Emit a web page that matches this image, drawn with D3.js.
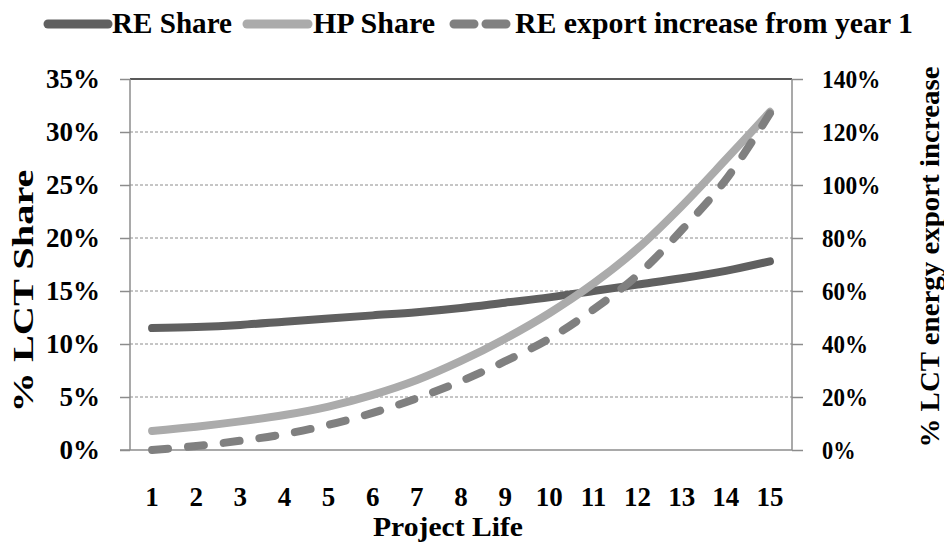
<!DOCTYPE html>
<html lang="en">
<head>
    <meta charset="UTF-8">
    <title>LCT Share over Project Life</title>
    <script src="https://d3js.org/d3.v7.min.js"></script>
    <style>
        body { margin: 0; background: #fff; }
        svg text {
            font-family: "Liberation Serif", "Times New Roman", serif;
            font-weight: bold;
            fill: #000;
        }
        .grid {
            stroke: #8c8c8c;
            stroke-width: 1;
            stroke-dasharray: 3,2;
        }
        .axis-line {
            stroke: #8c8c8c;
            stroke-width: 1.5;
        }
    </style>
</head>
<body>
    <svg id="chart" width="944" height="544"></svg>

    <script>
        // data
        const years = [1, 2, 3, 4, 5, 6, 7, 8, 9, 10, 11, 12, 13, 14, 15];
        const reShare = [11.5, 11.6, 11.8, 12.1, 12.4, 12.7, 13.0, 13.4, 13.9, 14.4, 15.0, 15.6, 16.2, 16.9, 17.8];
        const hpShare = [1.8, 2.2, 2.7, 3.3, 4.1, 5.2, 6.6, 8.4, 10.5, 12.9, 15.7, 19.0, 23.0, 27.4, 31.9];
        const reExport = [0, 1.5, 3.5, 6, 9.5, 14, 19.5, 26, 33.5, 42, 53, 66, 83, 102, 127];
        const leftTicks = [0, 5, 10, 15, 20, 25, 30, 35];
        const rightTicks = [0, 20, 40, 60, 80, 100, 120, 140];

        const svg = d3.select('#chart');

        const plotL = 130, plotR = 792, plotT = 79, plotB = 450;

        const x = d3.scaleBand().domain(years).range([plotL, plotR]);
        const yL = d3.scaleLinear().domain([0, 35]).range([plotB, plotT]);
        const yR = d3.scaleLinear().domain([0, 140]).range([plotB, plotT]);
        const cx = d => x(d) + x.bandwidth() / 2;

        // grid lines
        svg.append('g').selectAll('line')
            .data(leftTicks.filter(t => t > 0 && t < 35))
            .join('line')
            .attr('class', 'grid')
            .attr('x1', plotL).attr('x2', plotR)
            .attr('y1', d => yL(d)).attr('y2', d => yL(d));

        // top border
        svg.append('line')
            .attr('x1', plotL).attr('x2', plotR)
            .attr('y1', plotT).attr('y2', plotT)
            .attr('stroke', '#222').attr('stroke-width', 1.5);

        // left axis
        const gL = svg.append('g')
            .attr('transform', `translate(${plotL},0)`)
            .call(d3.axisLeft(yL).tickValues(leftTicks).tickFormat(d => d + '%').tickSize(10).tickPadding(20));
        gL.select('.domain').remove();
        gL.selectAll('.tick line').attr('stroke', '#8c8c8c').attr('stroke-width', 1.5);
        gL.selectAll('.tick text').style('font-size', '27px');
        svg.append('line').attr('class', 'axis-line')
            .attr('x1', plotL).attr('x2', plotL).attr('y1', plotT).attr('y2', plotB);

        // right axis
        const gR = svg.append('g')
            .attr('transform', `translate(${plotR},0)`)
            .call(d3.axisRight(yR).tickValues(rightTicks).tickFormat(d => d + '%').tickSize(11).tickPadding(19));
        gR.select('.domain').remove();
        gR.selectAll('.tick line').attr('stroke', '#8c8c8c').attr('stroke-width', 1.5);
        gR.selectAll('.tick text').style('font-size', '26px')
            .attr('textLength', d => String(d).length * 12.5 + 21)
            .attr('lengthAdjust', 'spacingAndGlyphs');
        svg.append('line').attr('class', 'axis-line')
            .attr('x1', plotR).attr('x2', plotR).attr('y1', plotT).attr('y2', plotB);

        // bottom axis
        const gB = svg.append('g')
            .attr('transform', `translate(0,${plotB})`)
            .call(d3.axisBottom(x).tickSize(0).tickPadding(37));
        gB.select('.domain').remove();
        gB.selectAll('.tick text').style('font-size', '27px');
        svg.append('line').attr('class', 'axis-line')
            .attr('x1', plotL - 10).attr('x2', plotR).attr('y1', plotB).attr('y2', plotB);

        // axis titles
        svg.append('text')
            .attr('x', 448).attr('y', 536)
            .attr('text-anchor', 'middle')
            .style('font-size', '28px')
            .attr('textLength', 150).attr('lengthAdjust', 'spacingAndGlyphs')
            .text('Project Life');

        svg.append('text')
            .attr('transform', 'translate(33,291) rotate(-90)')
            .attr('text-anchor', 'middle')
            .style('font-size', '29px')
            .attr('textLength', 243).attr('lengthAdjust', 'spacingAndGlyphs')
            .text('% LCT Share');

        svg.append('text')
            .attr('transform', 'translate(939,257) rotate(-90)')
            .attr('text-anchor', 'middle')
            .style('font-size', '28px')
            .attr('textLength', 381).attr('lengthAdjust', 'spacingAndGlyphs')
            .text('% LCT energy export increase');

        // series
        const lineL = d3.line().x((d, i) => cx(years[i])).y(d => yL(d)).curve(d3.curveCatmullRom);
        const lineR = d3.line().x((d, i) => cx(years[i])).y(d => yR(d)).curve(d3.curveCatmullRom);

        svg.append('path').datum(reShare)
            .attr('d', lineL)
            .attr('fill', 'none').attr('stroke', '#606060')
            .attr('stroke-width', 8).attr('stroke-linecap', 'round');

        svg.append('path').datum(hpShare)
            .attr('d', lineL)
            .attr('fill', 'none').attr('stroke', '#ababab')
            .attr('stroke-width', 8).attr('stroke-linecap', 'round');

        svg.append('path').datum(reExport)
            .attr('d', lineR)
            .attr('fill', 'none').attr('stroke', '#808080')
            .attr('stroke-width', 8).attr('stroke-linecap', 'round')
            .attr('stroke-dasharray', '16,20');

        // legend
        const legend = [
            { label: 'RE Share', color: '#606060', dash: null, x1: 48, x2: 108, tx: 112, tw: 120 },
            { label: 'HP Share', color: '#ababab', dash: null, x1: 247, x2: 308, tx: 313, tw: 122 },
            { label: 'RE export increase from year 1', color: '#808080', dash: '20,12', x1: 454, x2: 512, tx: 515, tw: 398 }
        ];
        const lg = svg.append('g').selectAll('g').data(legend).join('g');
        lg.append('line')
            .attr('x1', d => d.x1).attr('x2', d => d.x2)
            .attr('y1', 24).attr('y2', 24)
            .attr('stroke', d => d.color)
            .attr('stroke-width', 9)
            .attr('stroke-linecap', 'round')
            .attr('stroke-dasharray', d => d.dash);
        lg.append('text')
            .attr('x', d => d.tx).attr('y', 33)
            .style('font-size', '29px')
            .attr('textLength', d => d.tw).attr('lengthAdjust', 'spacingAndGlyphs')
            .text(d => d.label);
    </script>
</body>
</html>
